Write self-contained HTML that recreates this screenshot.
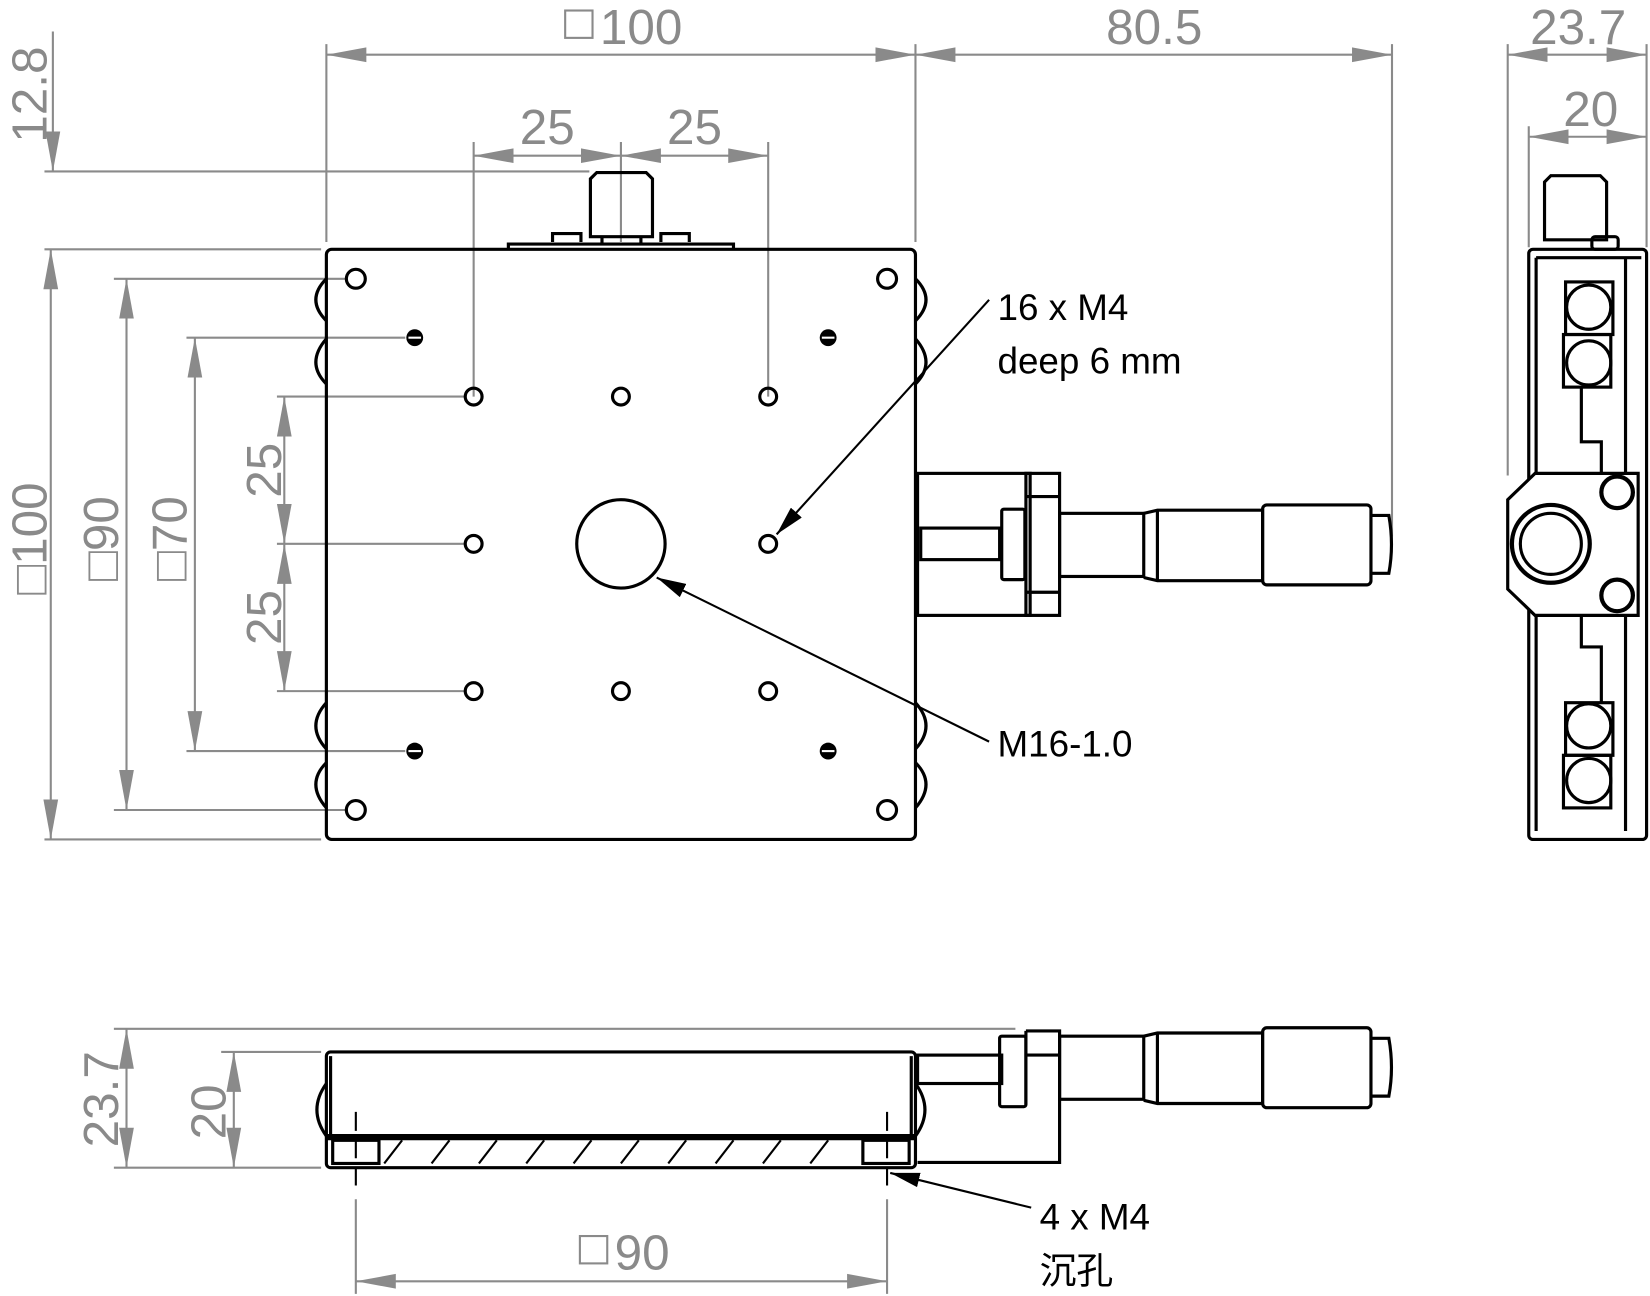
<!DOCTYPE html>
<html><head><meta charset="utf-8"><style>
html,body{margin:0;padding:0;background:#fff}
svg{display:block}
.d{stroke:#8a8a8a;stroke-width:2;fill:none}
.k{stroke:#000;stroke-width:3;fill:none}
.t{font-family:"Liberation Sans","Noto Sans CJK SC",sans-serif;fill:#8a8a8a;font-size:47px}
.a{font-family:"Liberation Sans","Noto Sans CJK SC",sans-serif;fill:#000;font-size:35px}
</style></head><body>
<svg width="1650" height="1296" viewBox="0 0 1568 1232" xmlns="http://www.w3.org/2000/svg">
<defs>
<marker id="g" markerUnits="userSpaceOnUse" markerWidth="40" markerHeight="16" refX="38" refY="8" orient="auto-start-reverse"><path d="M0,1 L38,8 L0,15Z" fill="#8a8a8a"/></marker>
<marker id="b" markerUnits="userSpaceOnUse" markerWidth="30" markerHeight="14" refX="28" refY="7" orient="auto"><path d="M0,0 L28,7 L0,14Z" fill="#000"/></marker>
</defs>

<g class="d">
<line x1="310" y1="42" x2="310" y2="230"/><line x1="870" y1="42" x2="870" y2="230"/>
<line x1="1323" y1="42" x2="1323" y2="510"/>
<line x1="310" y1="52" x2="870" y2="52" marker-start="url(#g)" marker-end="url(#g)"/>
<line x1="870" y1="52" x2="1323" y2="52" marker-start="url(#g)" marker-end="url(#g)"/>
<line x1="450" y1="135" x2="450" y2="377"/><line x1="590" y1="135" x2="590" y2="230"/><line x1="730" y1="135" x2="730" y2="377"/>
<line x1="450" y1="148" x2="590" y2="148" marker-start="url(#g)" marker-end="url(#g)"/>
<line x1="590" y1="148" x2="730" y2="148" marker-start="url(#g)" marker-end="url(#g)"/>
<line x1="42" y1="163" x2="560" y2="163"/><line x1="42" y1="237" x2="305" y2="237"/>
<line x1="50" y1="30" x2="50" y2="163" marker-end="url(#g)"/>
<line x1="48" y1="237" x2="48" y2="798" marker-start="url(#g)" marker-end="url(#g)"/>
<line x1="42" y1="798" x2="305" y2="798"/>
<line x1="108" y1="265" x2="330" y2="265"/><line x1="108" y1="770" x2="330" y2="770"/>
<line x1="120" y1="265" x2="120" y2="770" marker-start="url(#g)" marker-end="url(#g)"/>
<line x1="177" y1="321" x2="385" y2="321"/><line x1="177" y1="714" x2="385" y2="714"/>
<line x1="185" y1="321" x2="185" y2="714" marker-start="url(#g)" marker-end="url(#g)"/>
<line x1="263" y1="377" x2="443" y2="377"/><line x1="263" y1="517" x2="443" y2="517"/><line x1="263" y1="657" x2="443" y2="657"/>
<line x1="270" y1="377" x2="270" y2="517" marker-start="url(#g)" marker-end="url(#g)"/>
<line x1="270" y1="517" x2="270" y2="657" marker-start="url(#g)" marker-end="url(#g)"/>
<line x1="1433" y1="42" x2="1433" y2="452"/><line x1="1453" y1="120" x2="1453" y2="235"/><line x1="1565" y1="42" x2="1565" y2="235"/>
<line x1="1433" y1="52" x2="1565" y2="52" marker-start="url(#g)" marker-end="url(#g)"/>
<line x1="1453" y1="130" x2="1565" y2="130" marker-start="url(#g)" marker-end="url(#g)"/>
<line x1="108" y1="978" x2="965" y2="978"/><line x1="108" y1="1110" x2="305" y2="1110"/><line x1="210" y1="1000" x2="305" y2="1000"/>
<line x1="120" y1="978" x2="120" y2="1110" marker-start="url(#g)" marker-end="url(#g)"/>
<line x1="222" y1="1000" x2="222" y2="1110" marker-start="url(#g)" marker-end="url(#g)"/>
<line x1="338" y1="1140" x2="338" y2="1230"/><line x1="843" y1="1140" x2="843" y2="1230"/>
<line x1="338" y1="1218" x2="843" y2="1218" marker-start="url(#g)" marker-end="url(#g)"/>
</g>
<g class="t">
<rect x="537" y="10" width="26" height="26" fill="none" stroke="#8a8a8a" stroke-width="2"/>
<text x="570" y="42">100</text>
<text x="1097" y="42" text-anchor="middle">80.5</text>
<text x="520" y="137" text-anchor="middle">25</text><text x="660" y="137" text-anchor="middle">25</text>
<text x="1500" y="42" text-anchor="middle">23.7</text><text x="1512" y="120" text-anchor="middle">20</text>
<text transform="translate(44,90) rotate(-90)" text-anchor="middle">12.8</text>
<text transform="translate(44,512) rotate(-90)" text-anchor="middle">□100</text>
<text transform="translate(112,512) rotate(-90)" text-anchor="middle">□90</text>
<text transform="translate(177,512) rotate(-90)" text-anchor="middle">□70</text>
<text transform="translate(267,447) rotate(-90)" text-anchor="middle">25</text>
<text transform="translate(267,587) rotate(-90)" text-anchor="middle">25</text>
<text transform="translate(112,1045) rotate(-90)" text-anchor="middle">23.7</text>
<text transform="translate(214,1057) rotate(-90)" text-anchor="middle">20</text>
<rect x="551" y="1175" width="26" height="26" fill="none" stroke="#8a8a8a" stroke-width="2"/>
<text x="584" y="1207">90</text>
</g>

<g class="k">
<rect x="310" y="237" width="560" height="561" rx="5"/>
<path d="M561 225 V170 L567 164 H614 L620 170 V225 Z"/>
<path d="M483 237 V232 H697 V237 M525 230 V222 H552 V230 M628 230 V222 H655 V230 M572 225 V232 M609 225 V232"/>
<path d="M310 265 Q290 285 310 305 M310 322 Q290 345 310 365 M310 668 Q290 690 310 712 M310 725 Q290 745 310 768"/>
<path d="M870 265 Q890 285 870 305 M870 322 Q890 345 870 365 M870 668 Q890 690 870 712 M870 725 Q890 745 870 768"/>
<circle cx="338" cy="265" r="9"/><circle cx="843" cy="265" r="9"/><circle cx="338" cy="770" r="9"/><circle cx="843" cy="770" r="9"/>
<circle cx="450" cy="377" r="8"/><circle cx="590" cy="377" r="8"/><circle cx="730" cy="377" r="8"/>
<circle cx="450" cy="517" r="8"/><circle cx="730" cy="517" r="8"/>
<circle cx="450" cy="657" r="8"/><circle cx="590" cy="657" r="8"/><circle cx="730" cy="657" r="8"/>
<circle cx="590" cy="517" r="42"/>
<rect x="872" y="450" width="107" height="135"/>
<rect x="975" y="450" width="32" height="135"/><line x1="975" y1="472" x2="1007" y2="472"/><line x1="975" y1="563" x2="1007" y2="563"/>
<rect x="875" y="502" width="75" height="30"/>
<rect x="952" y="484" width="22" height="67" rx="2"/>
<rect x="1007" y="488" width="80" height="60"/>
<path d="M1087 488 L1100 485 H1200 V552 H1100 L1087 549"/><line x1="1100" y1="485" x2="1100" y2="552"/>
<rect x="1200" y="480" width="103" height="76" rx="4"/>
<path d="M1303 490 H1320 Q1325 518 1320 545 H1303"/>
</g>
<g fill="#000">
<circle cx="394" cy="321" r="8"/><circle cx="787" cy="321" r="8"/><circle cx="394" cy="714" r="8"/><circle cx="787" cy="714" r="8"/>
</g>
<g stroke="#fff" stroke-width="2"><line x1="388" y1="321" x2="400" y2="321"/><line x1="781" y1="321" x2="793" y2="321"/><line x1="388" y1="714" x2="400" y2="714"/><line x1="781" y1="714" x2="793" y2="714"/></g>

<g stroke="#000" stroke-width="2" fill="none">
<line x1="940" y1="285" x2="738" y2="508" marker-end="url(#b)"/>
<line x1="940" y1="705" x2="624" y2="549" marker-end="url(#b)"/>
<line x1="980" y1="1148" x2="846" y2="1115" marker-end="url(#b)"/>
</g>
<g class="a">
<text x="948" y="304">16 x M4</text>
<text x="948" y="355">deep 6 mm</text>
<text x="948" y="719">M16-1.0</text>
<text x="988" y="1169">4 x M4</text>
<text x="988" y="1220">沉孔</text>
</g>

<!-- Side view -->
<g class="k">
<rect x="1453" y="237" width="112" height="561" rx="4"/>
<line x1="1460" y1="245" x2="1560" y2="245"/><line x1="1460" y1="245" x2="1460" y2="790"/>
<path d="M1468 228 V173 L1474 167 H1521 L1527 173 V228 Z"/>
<rect x="1513" y="225" width="25" height="12" rx="3"/>
<line x1="1545" y1="245" x2="1545" y2="790"/>
<path d="M1459 450 H1557 V585 H1459 L1433 560 V475 Z" fill="#fff"/>
<circle cx="1474" cy="517" r="37" stroke-width="4"/><circle cx="1474" cy="517" r="29"/>
<circle cx="1537" cy="468" r="15" stroke-width="4"/><circle cx="1537" cy="566" r="15" stroke-width="4"/>
<rect x="1488" y="268" width="45" height="50"/><rect x="1486" y="318" width="45" height="50"/>
<rect x="1488" y="668" width="45" height="50"/><rect x="1486" y="718" width="45" height="50"/>
<circle cx="1510" cy="292" r="21"/><circle cx="1510" cy="345" r="21"/><circle cx="1510" cy="690" r="21"/><circle cx="1510" cy="742" r="21"/>
<path d="M1503 368 V420 H1522 V450 M1503 585 V615 H1522 V668"/>
</g>

<!-- Bottom view -->
<g class="k">
<rect x="310" y="1000" width="560" height="110" rx="4"/>
<line x1="314" y1="1004" x2="314" y2="1080"/><line x1="866" y1="1004" x2="866" y2="1080"/>
<line x1="310" y1="1081" x2="870" y2="1081" stroke-width="6"/>
<rect x="316" y="1084" width="44" height="22"/><rect x="820" y="1084" width="44" height="22"/>
<path d="M310 1030 Q292 1055 310 1080 M870 1030 Q888 1055 870 1080"/>
<rect x="872" y="1003" width="80" height="27"/>
<rect x="950" y="985" width="25" height="67" rx="2"/>
<path d="M975 980 H1007 V1105 H872 M975 980 V1050"/><line x1="975" y1="1003" x2="1007" y2="1003"/>
<rect x="1007" y="985" width="80" height="60"/>
<path d="M1087 985 L1100 982 H1200 V1049 H1100 L1087 1046"/><line x1="1100" y1="982" x2="1100" y2="1049"/>
<rect x="1200" y="977" width="103" height="76" rx="4"/>
<path d="M1303 987 H1320 Q1325 1015 1320 1042 H1303"/>
</g>
<g stroke="#000" stroke-width="2">
<line x1="365" y1="1106" x2="382" y2="1084"/><line x1="410" y1="1106" x2="427" y2="1084"/><line x1="455" y1="1106" x2="472" y2="1084"/><line x1="500" y1="1106" x2="517" y2="1084"/><line x1="545" y1="1106" x2="562" y2="1084"/><line x1="590" y1="1106" x2="607" y2="1084"/><line x1="635" y1="1106" x2="652" y2="1084"/><line x1="680" y1="1106" x2="697" y2="1084"/><line x1="725" y1="1106" x2="742" y2="1084"/><line x1="770" y1="1106" x2="787" y2="1084"/>
<line x1="338" y1="1057" x2="338" y2="1130" stroke-dasharray="18,8"/><line x1="843" y1="1057" x2="843" y2="1130" stroke-dasharray="18,8"/>
</g>
</svg>
</body></html>
